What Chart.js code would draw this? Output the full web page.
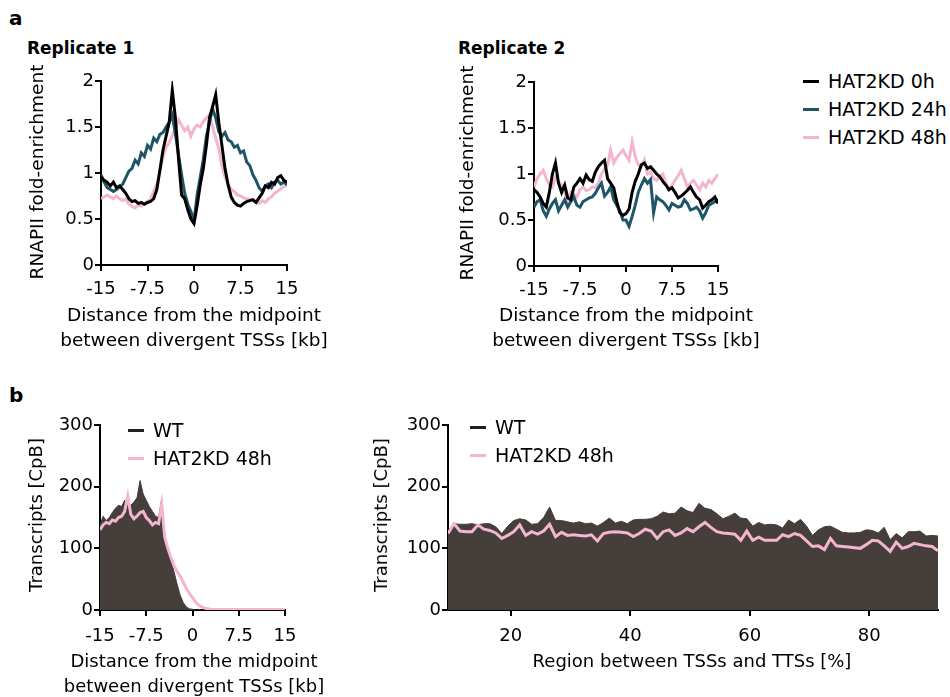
<!DOCTYPE html>
<html>
<head>
<meta charset="utf-8">
<script src="https://cdn.jsdelivr.net/npm/chart.js@4.4.1/dist/chart.umd.min.js"></script>
<style>
  body { margin: 0; background: #fff; width: 950px; height: 697px; position: relative; overflow: hidden; font-family: "DejaVu Sans", sans-serif; color: #000; }
  canvas, .t, .sw, .xt, .yt { position: absolute; }
  .t { white-space: nowrap; line-height: 24px; }
  .panel { font-weight: bold; font-size: 20px; }
  .rep { font-weight: bold; font-size: 17px; }
  .leg { font-size: 19px; }
  .sw { width: 16px; height: 3px; }
  .xt { width: 400px; text-align: center; white-space: nowrap; font-size: 18.5px; line-height: 25px; }
  .yt { white-space: nowrap; font-size: 18.5px; line-height: 24px; transform: translate(-50%, -50%) rotate(-90deg); }
</style>
</head>
<body>
<div class="t panel" style="left:9px; top:6px;">a</div>
<div class="t rep" style="left:27px; top:36px;">Replicate 1</div>
<div class="t rep" style="left:458px; top:36px;">Replicate 2</div>
<div class="t panel" style="left:9px; top:383px;">b</div>

<canvas id="rep1" width="310" height="320" style="left:0; top:50px; width:310px; height:320px;"></canvas>
<canvas id="rep2" width="310" height="320" style="left:430px; top:50px; width:310px; height:320px;"></canvas>
<canvas id="tss" width="310" height="297" style="left:0; top:400px; width:310px; height:297px;"></canvas>
<canvas id="body" width="610" height="297" style="left:340px; top:400px; width:610px; height:297px;"></canvas>

<div class="yt" style="left:37px; top:172px;">RNAPII fold-enrichment</div>
<div class="yt" style="left:467px; top:173px;">RNAPII fold-enrichment</div>
<div class="yt" style="left:36px; top:515px; font-size:18px;">Transcripts [CpB]</div>
<div class="yt" style="left:381px; top:515px; font-size:18px;">Transcripts [CpB]</div>

<div class="xt" style="left:-6px; top:302px;">Distance from the midpoint<br>between divergent TSSs [kb]</div>
<div class="xt" style="left:426px; top:302px;">Distance from the midpoint<br>between divergent TSSs [kb]</div>
<div class="xt" style="left:-6px; top:648px; font-size:18px;">Distance from the midpoint<br>between divergent TSSs [kb]</div>
<div class="xt" style="left:492px; top:648px; font-size:18px;">Region between TSSs and TTSs [%]</div>

<div id="legA"></div>
<div id="legB1"></div>
<div id="legB2"></div>

<script>
const FONT = '"DejaVu Sans", sans-serif';
const BLACK = '#000000', TEAL = '#1d5667', PINK = '#f3b5d0', WT_FILL = '#463e3b';

// distance from the midpoint between divergent TSSs [kb]
const kbPos = [-15,-14.5,-14,-13.5,-13,-12.5,-12,-11.5,-11,-10.5,-10,-9.5,-9,-8.5,-8,-7.5,-7,-6.5,-6,-5.5,
  -5,-4.5,-4,-3.5,-3,-2.5,-2,-1.5,-1,-0.5,0,0.5,1,1.5,2,2.5,3,3.5,4,4.5,5,5.5,6,6.5,7,7.5,8,8.5,9,9.5,
  10,10.5,11,11.5,12,12.5,13,13.5,14,14.5,15];
const kbTicks = [-15, -7.5, 0, 7.5, 15];
const foldTicks = [0, 0.5, 1, 1.5, 2];

// Replicate 1, RNAPII fold-enrichment
const rep1_0h = [.96,.92,.9,.86,.9,.84,.86,.82,.78,.72, .69,.7,.67,.68,.66,.68,.69,.72,.82,1.03,
  1.25,1.4,1.55,1.9,1.6,1.16,.76,.72,.6,.5, .45,.64,.87,1.05,1.3,1.6,1.72,1.85,1.55,1.3,
  1.05,.87,.74,.68,.65,.64,.67,.69,.7,.71, .68,.73,.78,.86,.84,.9,.88,.95,.97,.92, .9];
const rep1_24h = [.98,.9,.84,.82,.8,.82,.85,.88,.95,1.02, 1.05,1.14,1.1,1.22,1.18,1.3,1.26,1.38,1.34,1.42,
  1.44,1.5,1.55,1.63,1.42,1.2,.98,.78,.66,.58, .48,.76,.95,1.15,1.4,1.55,1.7,1.6,1.45,1.4,
  1.44,1.36,1.34,1.28,1.3,1.22,1.24,1.12,1.08,.98, .92,.84,.8,.86,.88,.84,.9,.92,.88,.9, .87];
const rep1_48h = [.72,.74,.76,.74,.72,.75,.72,.7,.72,.66, .64,.62,.65,.64,.67,.69,.72,.8,.88,1.02,
  1.18,1.28,1.33,1.41,1.48,1.58,1.52,1.46,1.5,1.4, 1.48,1.52,1.5,1.56,1.6,1.63,1.5,1.38,1.26,1.08,
  .96,.88,.82,.8,.76,.75,.73,.72,.71,.7, .68,.67,.7,.68,.72,.74,.78,.8,.83,.85, .87];

// Replicate 2
const rep2_0h = [.83,.8,.75,.68,.64,.8,1.0,1.12,.9,.8, .88,.74,.72,.86,.9,.95,.9,.99,.94,.92,
  1.02,1.08,1.12,1.15,.95,.9,.85,.7,.58,.55, .57,.62,.8,.92,1.0,1.1,1.12,1.06,1.08,1.04,
  1.0,.97,.92,.88,.83,.85,.8,.74,.76,.79, .82,.86,.8,.75,.72,.63,.66,.7,.72,.75, .68];
const rep2_24h = [.64,.7,.72,.6,.54,.62,.68,.72,.6,.66, .72,.64,.7,.75,.66,.64,.7,.72,.74,.75,
  .79,.85,.9,.76,.8,.86,.72,.66,.6,.5, .5,.43,.54,.66,.8,.88,.95,.9,.94,.58,
  .75,.72,.7,.66,.61,.68,.66,.64,.65,.72, .68,.61,.62,.64,.6,.52,.58,.66,.68,.7, .72];
const rep2_48h = [.86,.95,1.0,1.04,.95,.88,.86,.97,.92,.88, .8,.72,.8,.78,.75,.83,.86,.82,.83,.86,
  .85,.9,1.0,1.05,1.1,1.26,1.12,1.18,1.22,1.26, 1.2,1.15,1.35,1.19,1.1,1.08,1.15,1.0,1.02,.95,
  .93,.98,1.0,.9,.83,.88,.93,.98,1.04,.95, .86,.9,.93,.88,.83,.9,.86,.93,.9,.95, 1.0];

// b, transcripts [CpB] around divergent TSSs
const cpbTicks = [0, 100, 200, 300];
const tssWT = [138,152,145,150,158,165,170,168,178,172, 170,175,182,210,188,178,168,160,152,150,
  180,115,100,82,62,42,24,12,5,2, 1,0,0,0,0,0,0,0,0,0,
  0,0,0,0,0,0,0,0,0,0, 0,0,0,0,0,0,0,0,0,0, 0];
const tssKD48 = [130,138,142,140,146,144,150,152,160,185, 155,148,152,158,160,150,145,138,142,140,
  172,118,100,85,72,62,55,45,35,27, 20,13,8,5,3,2,1,1,1,1,
  1,1,1,1,1,1,1,1,1,1, 1,1,1,1,1,1,1,1,1,1, 1];

// b, region between TSSs and TTSs [%]
const regionPos = [9.5,10.5,11.5,12.5,13.5,14.5,15.5,16.5,17.5,18.5,19.5,20.5,21.5,22.5,23.5,24.5,25.5,26.5,27.5,28.5,
  29.5,30.5,31.5,32.5,33.5,34.5,35.5,36.5,37.5,38.5,39.5,40.5,41.5,42.5,43.5,44.5,45.5,46.5,47.5,48.5,
  49.5,50.5,51.5,52.5,53.5,54.5,55.5,56.5,57.5,58.5,59.5,60.5,61.5,62.5,63.5,64.5,65.5,66.5,67.5,68.5,
  69.5,70.5,71.5,72.5,73.5,74.5,75.5,76.5,77.5,78.5,79.5,80.5,81.5,82.5,83.5,84.5,85.5,86.5,87.5,88.5,
  89.5,90.5,91.5];
const regionTicks = [20, 40, 60, 80];
const bodyWT = [128,140,139,139,140,138,140,140,135,124, 136,145,148,146,139,140,150,167,145,145,
  143,141,143,140,141,136,142,149,141,144, 140,146,147,147,148,152,159,156,157,167,
  161,158,173,165,163,156,148,152,157,149, 148,136,142,138,139,138,133,146,140,147,
  136,121,130,135,136,131,126,125,125,126, 130,129,125,134,114,124,117,127,127,128,
  120,121,120];
const bodyKD48 = [124,140,128,127,127,138,131,129,125,116, 121,127,138,121,127,123,128,139,119,126,
  121,122,121,120,122,112,124,126,127,126, 125,119,124,131,128,116,127,130,121,125,
  132,127,135,142,134,127,125,124,123,113, 128,113,118,113,113,113,122,119,124,121,
  112,103,104,98,116,104,103,102,101,100, 106,113,112,104,95,110,100,103,108,106,
  104,103,96];

function pts(xs, ys) { return xs.map((x, i) => ({ x: x, y: ys[i] })); }

function scale(min, max, tickVals, fit, pad) {
  return {
    type: 'linear', min: min, max: max,
    afterBuildTicks: s => { s.ticks = tickVals.map(v => ({ value: v })); },
    afterFit: fit,
    grid: { drawOnChartArea: false, drawTicks: true, tickLength: 6, color: '#000', lineWidth: 2 },
    border: { display: true, color: '#000', width: 2 },
    ticks: { color: '#000', font: { family: FONT, size: 18 }, padding: pad, maxRotation: 0, autoSkip: false,
             callback: v => String(v) },
    title: { display: false }
  };
}

function line(label, xs, ys, color, order) {
  return { label: label, data: pts(xs, ys), borderColor: color, borderWidth: 3, pointRadius: 0,
           tension: 0, fill: false, order: order };
}

function makeChart(id, datasets, pad, yW, xH, xPad, x, y) {
  return new Chart(document.getElementById(id), {
    type: 'line',
    data: { datasets: datasets },
    options: {
      responsive: false, animation: false, devicePixelRatio: 1,
      layout: { padding: pad },
      plugins: { legend: { display: false }, tooltip: { enabled: false } },
      scales: {
        x: scale(x[0], x[1], x[2], s => { s.height = xH; }, xPad),
        y: scale(y[0], y[1], y[2], s => { s.width = yW; }, 1)
      }
    }
  });
}

const xKb = [-15, 15, kbTicks];
const yFold = [0, 2, foldTicks];
const yCpb = [0, 300, cpbTicks];

makeChart('rep1', [
  line('HAT2KD 0h', kbPos, rep1_0h, BLACK, 0),
  line('HAT2KD 24h', kbPos, rep1_24h, TEAL, 1),
  line('HAT2KD 48h', kbPos, rep1_48h, PINK, 2)
], { left: 30, top: 31, right: 23, bottom: 18 }, 71, 87, 8, xKb, yFold);

makeChart('rep2', [
  line('HAT2KD 0h', kbPos, rep2_0h, BLACK, 0),
  line('HAT2KD 24h', kbPos, rep2_24h, TEAL, 1),
  line('HAT2KD 48h', kbPos, rep2_48h, PINK, 2)
], { left: 26, top: 32, right: 22, bottom: 18 }, 78, 86, 8, xKb, yFold);

function wtArea(xs, ys) {
  return { label: 'WT', data: pts(xs, ys), borderColor: WT_FILL, backgroundColor: WT_FILL, borderWidth: 1,
           pointRadius: 0, tension: 0, fill: 'origin', order: 1 };
}

makeChart('tss', [
  line('HAT2KD 48h', kbPos, tssKD48, PINK, 0),
  wtArea(kbPos, tssWT)
], { left: 25, top: 25, right: 25, bottom: 0 }, 75, 87, 10, xKb, yCpb);

makeChart('body', [
  line('HAT2KD 48h', regionPos, bodyKD48, PINK, 0),
  wtArea(regionPos, bodyWT)
], { left: 28, top: 25, right: 12, bottom: 0 }, 80, 87, 10, [9.5, 91.5, regionTicks], yCpb);

// legends as plain html
function legend(el, items, x, y0, dy) {
  items.forEach((it, i) => {
    const cy = y0 + i * dy;
    el.insertAdjacentHTML('beforeend',
      '<div class="sw" style="left:' + x + 'px; top:' + (cy - 1.5) + 'px; background:' + it[1] + ';"></div>' +
      '<div class="t leg" style="left:' + (x + 25) + 'px; top:' + (cy - 12) + 'px;">' + it[0] + '</div>');
  });
}
legend(document.getElementById('legA'), [['HAT2KD 0h', BLACK], ['HAT2KD 24h', TEAL], ['HAT2KD 48h', PINK]], 803, 81, 28);
legend(document.getElementById('legB1'), [['WT', '#231f1e'], ['HAT2KD 48h', PINK]], 128, 430, 28);
legend(document.getElementById('legB2'), [['WT', '#231f1e'], ['HAT2KD 48h', PINK]], 470, 427, 28);
</script>
</body>
</html>
